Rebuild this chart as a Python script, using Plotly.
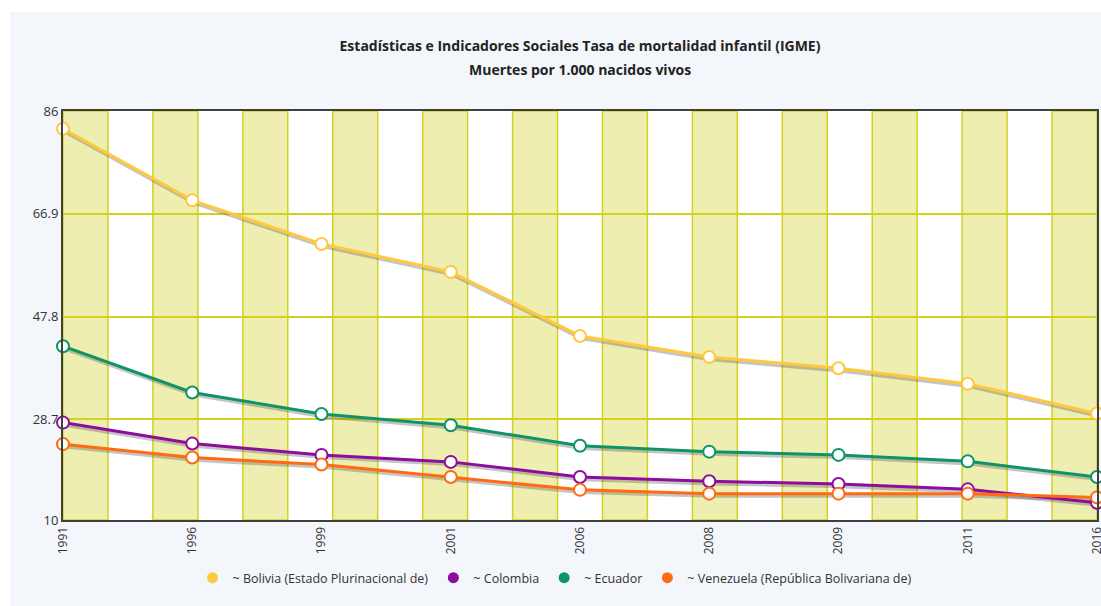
import plotly.graph_objects as go

# ---- data ----
years = ["1991", "1996", "1999", "2001", "2006", "2008", "2009", "2011", "2016"]
bolivia = [82.7, 69.4, 61.3, 56.1, 44.2, 40.3, 38.2, 35.3, 29.8]
colombia = [28.1, 24.2, 22.1, 20.8, 18.0, 17.2, 16.7, 15.7, 13.2]
ecuador = [42.3, 33.7, 29.7, 27.6, 23.8, 22.7, 22.1, 20.9, 18.0]
venezuela = [24.1, 21.6, 20.3, 18.0, 15.6, 14.9, 14.9, 14.9, 14.2]
series_names = [
    "~ Bolivia (Estado Plurinacional de)",
    "~ Colombia",
    "~ Ecuador",
    "~ Venezuela (República Bolivariana de)",
]
y_ticks = [10, 28.7, 47.8, 66.9, 86]
title_line1 = "Estadísticas e Indicadores Sociales Tasa de mortalidad infantil (IGME)"
title_line2 = "Muertes por 1.000 nacidos vivos"

# ---- styles / layout geometry ----
colors = ["#FFC83D", "#8E0C9E", "#0E9468", "#FF6A13"]
band_fill = "#EEEEB0"
grid_col = "#D2D21E"
frame_col = "#3F3F3F"
bg_col = "#F3F6FA"
font_fam = "Open Sans, Noto Sans, sans-serif"
W, H = 1101, 606
ML, MR, MT, MB = 63, 4, 111, 86
PW, PH = W - ML - MR, H - MT - MB
n_bands = 23
y_min, y_max = y_ticks[0], y_ticks[-1]
n_cat = len(years) - 1
shadow_dy = 2.2 * (y_max - y_min) / PH
shadow_dx = 1.2 * n_cat / PW

all_series = [bolivia, colombia, ecuador, venezuela]

fig = go.Figure()

# shadows (main x/y axes, slightly shifted ranges)
for vals in all_series:
    fig.add_trace(go.Scatter(
        x=years, y=vals, mode="lines", xaxis="x", yaxis="y",
        line=dict(color="rgba(90,90,90,0.35)", width=4),
        showlegend=False, hoverinfo="skip", cliponaxis=False,
    ))

# real lines (overlay axes with true ranges)
for name, vals, col in zip(series_names, all_series, colors):
    fig.add_trace(go.Scatter(
        x=years, y=vals, mode="lines+markers", xaxis="x2", yaxis="y2",
        name=name, showlegend=False, cliponaxis=False,
        line=dict(color=col, width=3),
        marker=dict(size=12, color="white", line=dict(color=col, width=2)),
    ))

# legend entries
for name, col in zip(series_names, colors):
    fig.add_trace(go.Scatter(
        x=[None], y=[None], mode="markers", xaxis="x2", yaxis="y2",
        name=name, marker=dict(size=11, color=col),
    ))

# alternating vertical bands
shapes = []
for i in range(0, n_bands, 2):
    shapes.append(dict(
        type="rect", xref="x2", yref="y2",
        x0=n_cat * i / n_bands, x1=n_cat * (i + 1) / n_bands,
        y0=y_min, y1=y_max,
        fillcolor=band_fill, line=dict(color=grid_col, width=1.5),
        layer="below",
    ))
# white page edges (left 10px, top 12px)
shapes.append(dict(type="rect", xref="paper", yref="paper",
                   x0=(0 - ML) / PW, x1=(10 - ML) / PW, y0=(0 - MB) / PH, y1=(H - MB) / PH,
                   fillcolor="white", line=dict(width=0), layer="above"))
shapes.append(dict(type="rect", xref="paper", yref="paper",
                   x0=(0 - ML) / PW, x1=(W - ML) / PW, y0=(H - MB - 12) / PH, y1=(H - MB) / PH,
                   fillcolor="white", line=dict(width=0), layer="above"))

title_font = dict(size=14, color="#222222", family="Open Sans, Noto Sans, sans-serif")

fig.update_layout(
    width=W, height=H,
    margin=dict(l=ML, r=MR, t=MT, b=MB, autoexpand=False),
    paper_bgcolor=bg_col, plot_bgcolor="white",
    font=dict(family=font_fam, color="#333333", size=12),
    title=dict(text="<b>" + title_line1 + "</b>", x=0.5, xref="paper",
               y=1 - 46 / H, yref="container", yanchor="middle", xanchor="center",
               font=title_font),
    annotations=[dict(text="<b>" + title_line2 + "</b>", xref="paper", yref="paper",
                      x=0.5, y=(MT + PH - 69) / PH, xanchor="center", yanchor="middle",
                      showarrow=False, font=title_font)],
    shapes=shapes,
    xaxis=dict(type="category", categoryorder="array", categoryarray=years,
               range=[0 - shadow_dx, n_cat - shadow_dx], automargin=False,
               showgrid=False, showline=False, zeroline=False, showticklabels=False,
               ticks=""),
    yaxis=dict(range=[y_min + shadow_dy, y_max + shadow_dy], automargin=False,
               showgrid=False, showline=False, zeroline=False, showticklabels=False,
               ticks=""),
    xaxis2=dict(type="category", categoryorder="array", categoryarray=years,
                overlaying="x", anchor="y2", range=[0, n_cat], automargin=False,
                showgrid=False, zeroline=False,
                showline=True, mirror=True, linecolor=frame_col, linewidth=2,
                tickangle=-90, ticks="", tickfont=dict(size=12, color="#333333")),
    yaxis2=dict(overlaying="y", side="left", anchor="x2", range=[y_min, y_max],
                automargin=False,
                tickmode="array", tickvals=y_ticks,
                ticktext=[("%g" % v) for v in y_ticks],
                showgrid=True, gridcolor=grid_col, gridwidth=1.5, zeroline=False,
                showline=True, mirror=True, linecolor=frame_col, linewidth=2,
                ticks="", tickfont=dict(size=13, color="#333333")),
    legend=dict(orientation="h", x=(555 - ML) / PW, xanchor="center",
                y=(MT + PH - 578) / PH, yanchor="middle",
                bgcolor="rgba(0,0,0,0)", font=dict(size=12.5, color="#333333"),
                itemwidth=30),
    hovermode="closest",
)

fig.write_html(
    "out.html",
    config={"displayModeBar": False, "responsive": False},
    post_script=(
        "document.body.style.margin='0';"
        "document.body.style.overflow='hidden';"
        "document.documentElement.style.overflow='hidden';"
    ),
)
